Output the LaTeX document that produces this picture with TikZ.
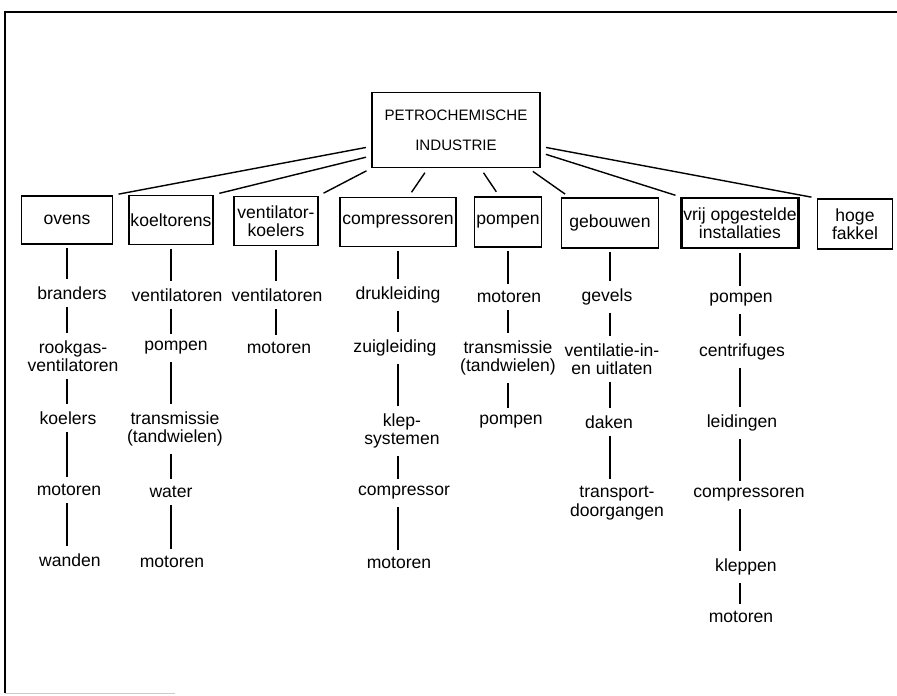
\documentclass[tikz,border=0pt]{standalone}
\usepackage{fontspec}
\setmainfont{Liberation Sans}
\begin{document}
\begin{tikzpicture}[x=0.02cm,y=-0.02cm,
  box/.style={draw,line width=1pt,align=center,inner sep=1pt,font=\fontsize{10}{10.5}\selectfont},
  item/.style={align=center,inner sep=2pt,font=\fontsize{10}{10.5}\selectfont},
  link/.style={line width=0.8pt,shorten <=3pt,shorten >=3pt},
  stem/.style={line width=0.6pt,shorten <=2pt,shorten >=2pt}]
\useasboundingbox (0,0) rectangle (897,696);
%\draw[step=50,gray,very thin] (0,0) grid (897,696); %background grid
\draw[line width=1.2pt] (5,693) -- (5,12) -- (897,12); %frame
\draw[gray!40] (5,693) -- (175,693);
% top
\node[box,minimum width=3.36cm,minimum height=1.5cm,font=\fontsize{8.6}{10}\selectfont] (top) at (456,130) {PETROCHEMISCHE\\[7pt]INDUSTRIE};
% first row
\node[box,minimum width=1.82cm,minimum height=0.96cm] (ovens) at (67,220) {ovens};
\node[box,minimum width=1.58cm,minimum height=0.98cm] (koeltorens) at (171,220) {koeltorens};
\node[box,minimum width=1.68cm,minimum height=0.98cm] (ventkoelers) at (276,221) {ventilator-\\koelers};
\node[box,minimum width=2.32cm,minimum height=0.98cm] (compressoren) at (398,222) {compressoren};
\node[box,minimum width=1.30cm,minimum height=1.0cm] (pompen) at (508,222) {pompen};
\node[box,minimum width=1.94cm,minimum height=1.0cm] (gebouwen) at (610,223) {gebouwen};
\node[box,line width=1.3pt,minimum width=2.30cm,minimum height=1.0cm] (vrij) at (740,223) {vrij opgestelde\\installaties};
\node[box,minimum width=1.50cm,minimum height=1.0cm] (fakkel) at (855,224) {hoge\\fakkel};
\draw[link] (top.191) -- (ovens.north east);
\draw[link] (top.197) -- (koeltorens.north east);
\draw[link] (top.south west) -- (ventkoelers.north east);
\draw[link] ([xshift=-16pt]top.south) -- ([xshift=6pt]compressoren.north);
\draw[link] ([xshift=14pt]top.south) -- ([xshift=-5pt]pompen.north);
\draw[link] ([xshift=-7pt]top.south east) -- ([xshift=5pt]gebouwen.north west);
\draw[link] (top.345) -- (vrij.north west);
\draw[link] (top.349) -- (fakkel.north west);
% ovens
\node[item] (branders) at (72,293) {branders};
\node[item] (rookgas) at (73,356) {rookgas-\\ventilatoren};
\node[item] (koelersA) at (68,418) {koelers};
\node[item] (motorenA) at (69,490) {motoren};
\node[item] (wanden) at (70,560) {wanden};
\foreach \a/\b in {ovens/branders,branders/rookgas,rookgas/koelersA,koelersA/motorenA,motorenA/wanden}
  \draw[stem] (\a.south -| ovens.south) -- (\b.north -| ovens.south);
% koeltorens
\node[item] (ventA) at (177,295) {ventilatoren};
\node[item] (pompenA) at (176,348) {pompen};
\node[item] (transA) at (175,429) {transmissie\\(tandwielen)};
\node[item] (water) at (171,492) {water};
\node[item] (motorenB) at (172,562) {motoren};
\foreach \a/\b in {koeltorens/ventA,ventA/pompenA,pompenA/transA,transA/water,water/motorenB}
  \draw[stem] (\a.south -| koeltorens.south) -- (\b.north -| koeltorens.south);
% ventilatorkoelers
\node[item] (ventC) at (277,295) {ventilatoren};
\node[item] (motorenC) at (279,348) {motoren};
\foreach \a/\b in {ventkoelers/ventC,ventC/motorenC}
  \draw[stem] (\a.south -| ventkoelers.south) -- (\b.north -| ventkoelers.south);
% compressoren
\node[item] (druk) at (398,295) {drukleiding};
\node[item] (zuig) at (395,348) {zuigleiding};
\node[item] (klep) at (402,431) {klep-\\systemen};
\node[item] (compr) at (404,493) {compressor};
\node[item] (motorenD) at (399,563) {motoren};
\foreach \a/\b in {compressoren/druk,druk/zuig,zuig/klep,klep/compr,compr/motorenD}
  \draw[stem] (\a.south -| compressoren.south) -- (\b.north -| compressoren.south);
% pompen
\node[item] (motorenE) at (509,297) {motoren};
\node[item] (transE) at (508,358) {transmissie\\(tandwielen)};
\node[item] (pompenE) at (511,422) {pompen};
\foreach \a/\b in {pompen/motorenE,motorenE/transE,transE/pompenE}
  \draw[stem] (\a.south -| pompen.south) -- (\b.north -| pompen.south);
% gebouwen
\node[item] (gevels) at (607,297) {gevels};
\node[item] (ventlat) at (612,359) {ventilatie-in-\\en uitlaten};
\node[item] (daken) at (609,422) {daken};
\node[item] (transport) at (617,503) {transport-\\doorgangen};
\foreach \a/\b in {gebouwen/gevels,gevels/ventlat,ventlat/daken,daken/transport}
  \draw[stem] (\a.south -| gebouwen.south) -- (\b.north -| gebouwen.south);
% vrij opgestelde installaties
\node[item] (pompenG) at (741,300) {pompen};
\node[item] (centri) at (742,352) {centrifuges};
\node[item] (leid) at (742,423) {leidingen};
\node[item] (comprG) at (749,495) {compressoren};
\node[item] (kleppen) at (746,567) {kleppen};
\node[item] (motorenG) at (741,617) {motoren};
\foreach \a/\b in {vrij/pompenG,pompenG/centri,centri/leid,leid/comprG,comprG/kleppen,kleppen/motorenG}
  \draw[stem] (\a.south -| vrij.south) -- (\b.north -| vrij.south);
\end{tikzpicture}
\end{document}
